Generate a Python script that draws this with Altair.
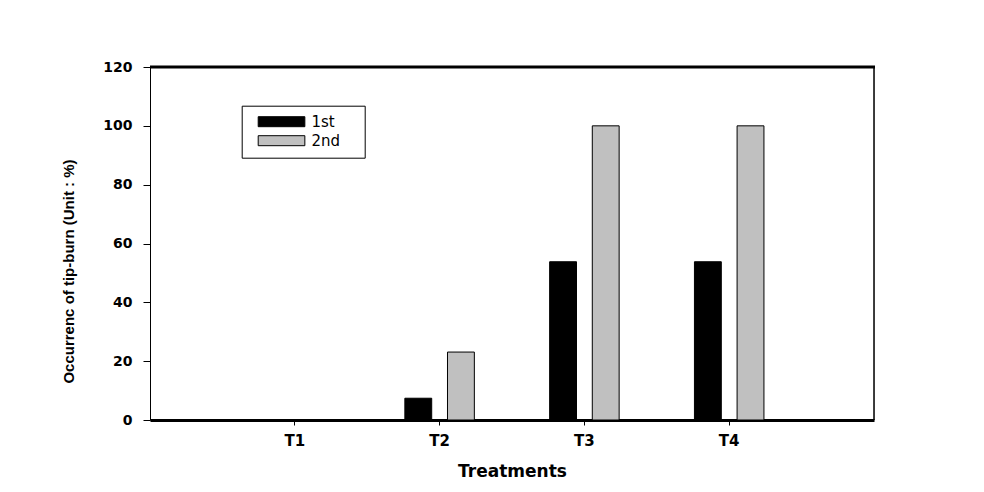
import altair as alt
import pandas as pd

treatments = ["T1", "T2", "T3", "T4"]
series = ["1st", "2nd"]
first_values = [0, 7.4, 53.8, 53.8]
second_values = [0, 23.1, 100, 100]
y_ticks = [0, 20, 40, 60, 80, 100, 120]
colors = ["#000000", "#c0c0c0"]

rows = []
for t, a, b in zip(treatments, first_values, second_values):
    rows.append({"Treatment": t, "Series": series[0], "Value": a})
    rows.append({"Treatment": t, "Series": series[1], "Value": b})
df = pd.DataFrame(rows)

W, H = 724, 353

bars = alt.Chart(df).mark_bar(stroke="black", strokeWidth=1).encode(
    x=alt.X(
        "Treatment:N",
        sort=treatments,
        scale=alt.Scale(paddingInner=0.52, paddingOuter=0.76),
        axis=alt.Axis(
            title="Treatments",
            labelAngle=0,
            labelFont="DejaVu Sans",
            labelFontWeight="bold",
            labelFontSize=15,
            labelColor="black",
            labelPadding=8,
            tickSize=5,
            tickColor="black",
            domainColor="black",
            domainWidth=3,
            titleFont="DejaVu Sans",
            titleFontWeight="bold",
            titleFontSize=17,
            titleColor="black",
            titleBaseline="alphabetic",
            titleY=56,
        ),
    ),
    xOffset=alt.XOffset("Series:N", sort=series,
                        scale=alt.Scale(paddingInner=0.37, paddingOuter=0)),
    y=alt.Y(
        "Value:Q",
        scale=alt.Scale(domain=[0, 120], nice=False),
        axis=alt.Axis(
            title="Occurrenc of tip-burn (Unit : %)",
            values=y_ticks,
            grid=False,
            labelFont="DejaVu Sans",
            labelFontWeight="bold",
            labelFontSize=14,
            labelColor="black",
            labelPadding=11,
            tickSize=7,
            tickColor="black",
            domainColor="black",
            domainWidth=1,
            titleFont="Liberation Sans",
            titleFontWeight="bold",
            titleFontSize=15,
            titleColor="black",
            titleAngle=270,
            titleAlign="center",
            titleBaseline="middle",
            titleX=-82,
            titleY=204,
        ),
    ),
    color=alt.Color(
        "Series:N",
        sort=series,
        scale=alt.Scale(domain=series, range=colors),
        legend=alt.Legend(
            title=None,
            orient="none",
            legendX=91.7,
            legendY=38.7,
            padding=8.5,
            strokeColor="black",
            fillColor="white",
            symbolType="M-1,-1H8.33V1H-1ZM18.1,0Z",
            symbolSize=100,
            symbolStrokeColor="black",
            symbolStrokeWidth=1,
            symbolOffset=5.5,
            labelOffset=40.7,
            rowPadding=3,
            labelFont="DejaVu Sans",
            labelFontSize=15,
            labelColor="black",
        ),
    ),
)

frame_df = pd.DataFrame({"k": [0]})
top_line = alt.Chart(frame_df).mark_rule(
    color="black", strokeWidth=3
).encode(x=alt.value(0), x2=alt.value(W + 1), y=alt.value(0))
right_line = alt.Chart(frame_df).mark_rule(
    color="black", strokeWidth=1.5
).encode(x=alt.value(W), y=alt.value(0), y2=alt.value(H))

chart = alt.layer(bars, top_line, right_line).properties(
    width=W,
    height=H,
    autosize=alt.AutoSizeParams(type="none"),
    padding={"left": 142, "top": 59, "right": 100, "bottom": 60},
).configure_view(stroke="black", strokeWidth=1).configure(background="white")

chart.save("out.html", embed_options={"renderer": "svg", "actions": False})
